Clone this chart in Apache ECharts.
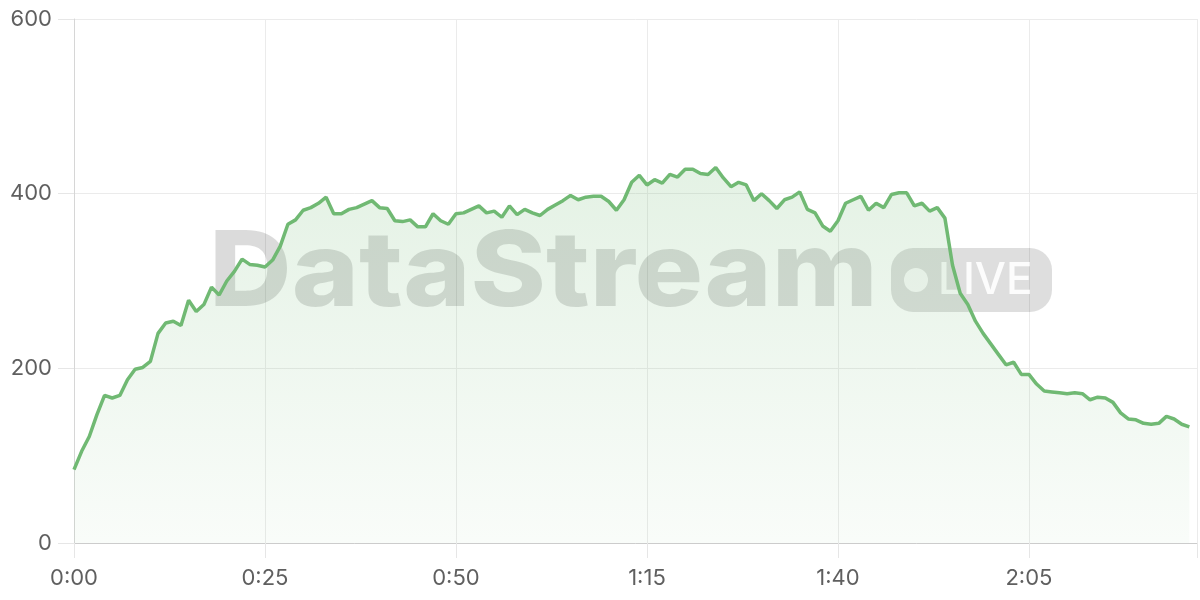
<!DOCTYPE html>
<html>
<head>
<meta charset="utf-8">
<script src="https://cdn.jsdelivr.net/npm/echarts@6/dist/echarts.min.js"></script>
<style>
html,body{margin:0;padding:0;background:#fff;}
#chart{width:1200px;height:600px;}
</style>
</head>
<body>
<div id="chart"></div>
<script>
// minutes since start (one sample per minute)
const minutes = Array.from({length: 147}, (_, i) => i);
const values = [
  84,105,122,147,169,166,169,187,199,201,
  208,240,252,254,249,278,265,273,293,284,
  300,311,325,319,318,316,324,340,365,370,
  381,384,389,396,377,377,382,384,388,392,
  384,383,369,368,370,362,362,377,369,365,
  377,378,382,386,378,380,373,386,376,382,
  378,375,382,387,392,398,393,396,397,397,
  391,381,393,413,421,410,416,412,422,419,
  428,428,423,422,430,418,408,413,410,392,
  400,392,383,393,396,402,382,378,363,357,
  369,389,393,397,381,389,384,399,401,401,
  386,389,380,384,372,318,286,273,254,240,
  228,216,204,207,193,193,182,174,173,172,
  171,172,171,164,167,166,161,149,142,141,
  137,136,137,145,142,136,133
];
const yTicks = [0, 200, 400, 600];
const xTickStep = 25;
const watermarkText = 'DataStream';
const badgeText = 'LIVE';

function fmtTime(v){
  const h = Math.floor(v / 60), m = v % 60;
  return h + ':' + (m < 10 ? '0' + m : m);
}

const chart = echarts.init(document.getElementById('chart'), null, {renderer: 'canvas'});
const FONT = 'Inter, "Liberation Sans", sans-serif';
chart.setOption({
  animation: false,
  backgroundColor: '#fff',
  grid: {left: 74, right: 0, top: 19, bottom: 57, containLabel: false},
  xAxis: {
    type: 'value',
    min: 0, max: 147, interval: xTickStep,
    axisLine: {show: true, lineStyle: {color: '#cccccc', width: 1}},
    axisTick: {show: true, length: 15, lineStyle: {color: '#e6e6e6'}},
    axisLabel: {
      margin: 24, color: '#5f5f5f', fontSize: 22, fontFamily: FONT,
      formatter: v => (v % xTickStep === 0 ? fmtTime(v) : '')
    },
    splitLine: {show: true, lineStyle: {color: '#ebebeb', width: 1}}
  },
  yAxis: {
    type: 'value',
    min: yTicks[0], max: yTicks[yTicks.length - 1], interval: 200,
    axisLine: {show: true, lineStyle: {color: '#d6d6d6', width: 1}},
    axisTick: {show: true, length: 16, lineStyle: {color: '#e6e6e6'}},
    axisLabel: {margin: 22, color: '#5f5f5f', fontSize: 22, fontFamily: FONT},
    splitLine: {show: true, lineStyle: {color: '#ebebeb', width: 1}}
  },
  graphic: [
    {
      type: 'text', z: 1, silent: true,
      x: 209, y: 275, scaleX: 1.1, scaleY: 1,
      style: {
        x: 0, y: 0, text: watermarkText,
        font: '800 104px ' + FONT,
        fill: 'rgba(0,0,0,0.14)', verticalAlign: 'middle', align: 'left'
      }
    },
    {
      type: 'rect', z: 1, silent: true,
      shape: {x: 891, y: 248, width: 161, height: 64, r: 22},
      style: {fill: 'rgba(0,0,0,0.13)'}
    },
    {
      type: 'circle', z: 1, silent: true,
      shape: {cx: 916, cy: 280, r: 12},
      style: {fill: 'rgba(255,255,255,0.85)'}
    },
    {
      type: 'text', z: 1, silent: true,
      style: {
        x: 938, y: 281, text: badgeText,
        font: '500 44px ' + FONT,
        fill: 'rgba(255,255,255,0.9)', verticalAlign: 'middle', align: 'left'
      }
    }
  ],
  series: [{
    type: 'line',
    data: minutes.map((m, i) => [m, values[i]]),
    showSymbol: false,
    symbol: 'none',
    lineStyle: {color: '#70b973', width: 3.5},
    itemStyle: {color: '#70b973'},
    areaStyle: {
      color: new echarts.graphic.LinearGradient(0, 0, 0, 1, [
        {offset: 0, color: 'rgba(112,185,115,0.27)'},
        {offset: 1, color: 'rgba(112,185,115,0.06)'}
      ])
    },
    z: 2
  }]
});
</script>
</body>
</html>
